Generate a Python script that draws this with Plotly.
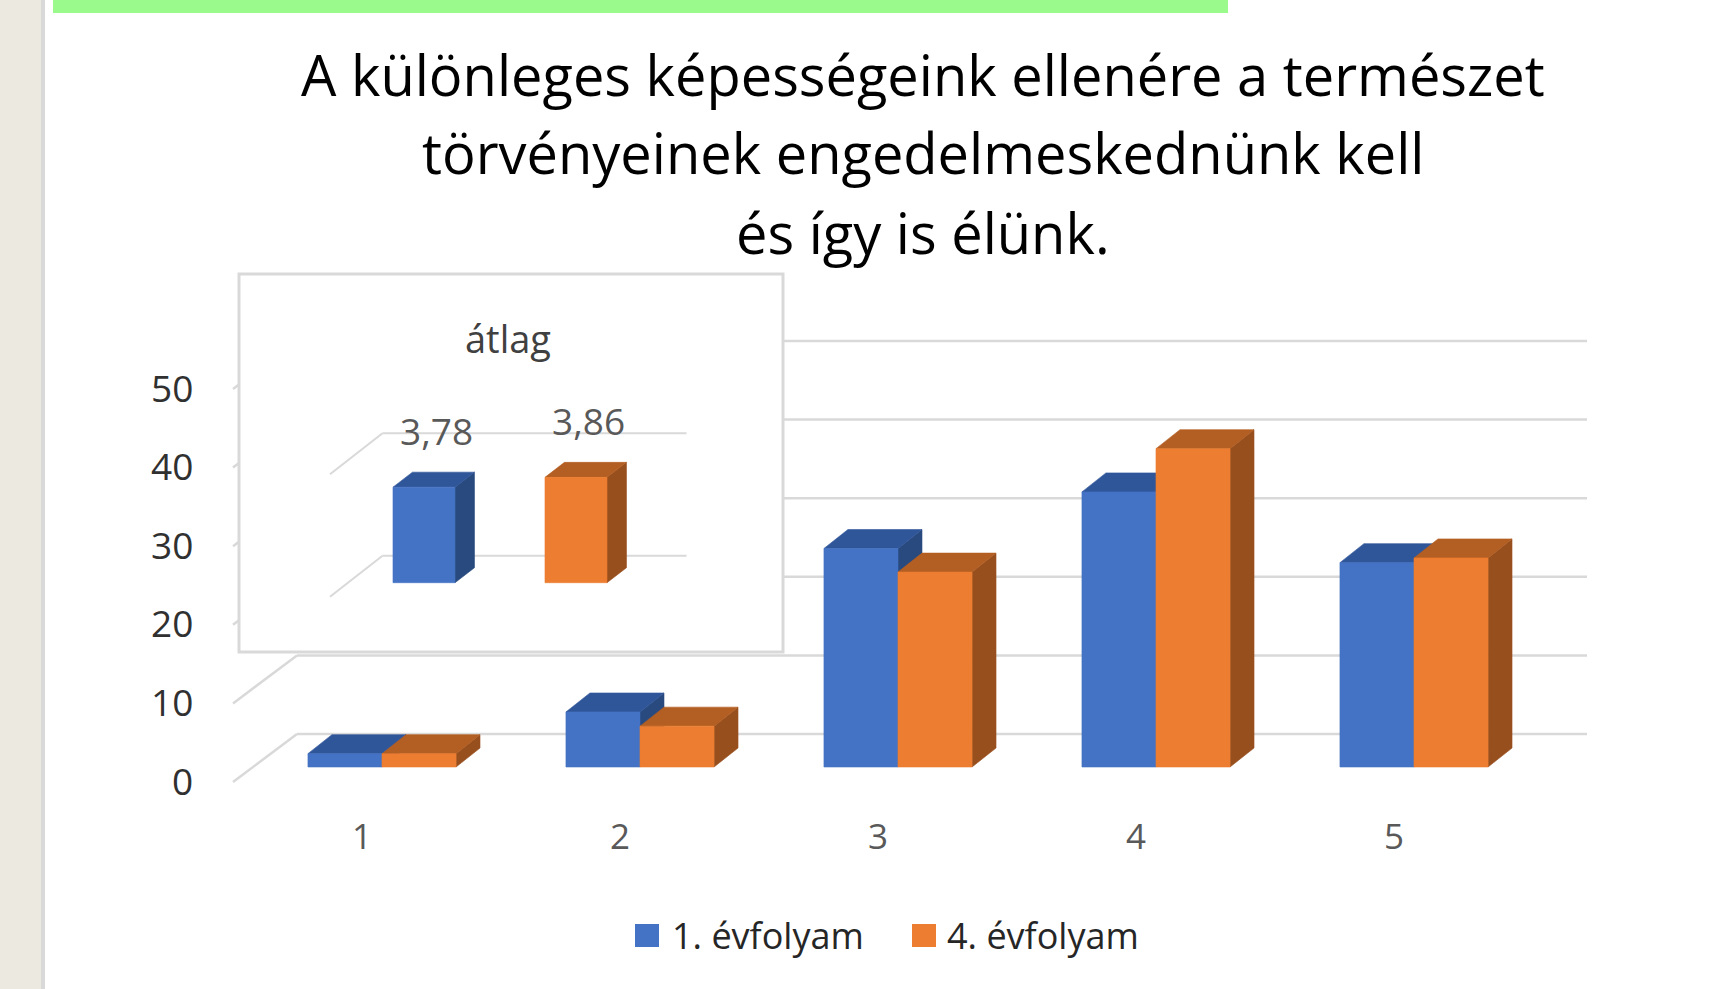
import plotly.graph_objects as go

# ---------------- data ----------------
categories = [1, 2, 3, 4, 5]
series_names = ["1. évfolyam", "4. évfolyam"]
grade1 = [1.7, 7.0, 27.8, 35.0, 26.0]
grade4 = [1.7, 5.2, 24.8, 40.5, 26.6]
y_ticks = [0, 10, 20, 30, 40, 50]

avg_values = [3.78, 3.86]
avg_labels = ["3,78", "3,86"]
avg_ticks = [3, 4]
avg_min = 3

title_lines = [
    "A különleges képességeink ellenére a természet",
    "törvényeinek engedelmeskednünk kell",
    "és így is élünk.",
]
inset_title = "átlag"

# ---------------- styling ----------------
FONT = "Open Sans"
FRONT = ["#4472C4", "#ED7D31"]
TOPC = ["#30569A", "#B35E22"]
SIDE = ["#294A7E", "#984F1E"]
GRID = "#D9D9D9"

W, H = 1710, 989

# main pseudo-3D geometry (in axis units)
BW = 0.287            # bar width
FDX, FDY = 0.0775, 1.908   # front face offset from floor front edge
BDX, BDY = 0.093, 2.417    # bar depth
WDX, WDY = 0.248, 6.107    # back wall offset

# inset geometry
IBW = 0.408
IFDX, IFDY = 0.1184, 0.1143
IBDX, IBDY = 0.128, 0.1224
IWDX, IWDY = 0.3454, 0.3347

fig = go.Figure()


def poly(xs, ys, color, xa="x", ya="y"):
    fig.add_trace(go.Scatter(
        x=xs, y=ys, fill="toself", fillcolor=color, mode="lines",
        line=dict(color=color, width=0.6), hoverinfo="skip",
        showlegend=False, xaxis=xa, yaxis=ya))


def line(xs, ys, xa="x", ya="y", width=2.5):
    fig.add_trace(go.Scatter(
        x=xs, y=ys, mode="lines", line=dict(color=GRID, width=width),
        hoverinfo="skip", showlegend=False, xaxis=xa, yaxis=ya))


def bar3d(x0, x1, base, top, ddx, ddy, k, xa="x", ya="y"):
    poly([x1, x1 + ddx, x1 + ddx, x1, x1],
         [base, base + ddy, top + ddy, top, base], SIDE[k], xa, ya)
    poly([x0, x1, x1 + ddx, x0 + ddx, x0],
         [top, top, top + ddy, top + ddy, top], TOPC[k], xa, ya)
    poly([x0, x1, x1, x0, x0], [base, base, top, top, base], FRONT[k], xa, ya)


# ---- main chart: back wall gridlines + floor diagonals ----
x_lo = categories[0] - 0.5
x_hi = categories[-1] + 0.5
for v in y_ticks:
    line([x_lo + WDX, x_hi + WDX], [v + WDY, v + WDY])
    line([x_lo, x_lo + WDX], [v, v + WDY])

# ---- main bars ----
for i, c in enumerate(categories):
    center = c + FDX
    for k, vals in enumerate([grade1, grade4]):
        x0 = center - BW if k == 0 else center
        x1 = x0 + BW
        bar3d(x0, x1, FDY, vals[i] + FDY, BDX, BDY, k)

# ---- inset chart ----
ix_lo, ix_hi = -0.5, len(avg_values) - 0.5
for v in avg_ticks:
    line([ix_lo + IWDX, ix_hi + IWDX], [v + IWDY, v + IWDY], "x2", "y2", 2)
    line([ix_lo, ix_lo + IWDX], [v, v + IWDY], "x2", "y2", 2)
for k, v in enumerate(avg_values):
    c = k + IFDX
    bar3d(c - IBW / 2, c + IBW / 2, avg_min + IFDY, v + IFDY, IBDX, IBDY, k, "x2", "y2")

annotations = []

# main y tick labels
for v in y_ticks:
    annotations.append(dict(x=x_lo, y=v, xref="x", yref="y", text=str(v),
                            showarrow=False, xanchor="right", yanchor="middle",
                            xshift=-38, yshift=2,
                            font=dict(family=FONT, size=37, color="#303030")))
# main x labels
for c in categories:
    annotations.append(dict(x=c, y=0, xref="x", yref="y", text=str(c),
                            showarrow=False, xanchor="center", yanchor="middle",
                            yshift=-53,
                            font=dict(family=FONT, size=35, color="#595959")))
# inset data labels
for k, (v, lab) in enumerate(zip(avg_values, avg_labels)):
    annotations.append(dict(x=k + IFDX + IBDX / 2, y=v + IFDY + IBDY,
                            xref="x2", yref="y2", text=lab, showarrow=False,
                            xanchor="center", yanchor="middle", xshift=3, yshift=42,
                            font=dict(family=FONT, size=37, color="#595959")))
# inset title
annotations.append(dict(x=0.495, y=0.83, xref="x2 domain", yref="y2 domain",
                        text=inset_title, showarrow=False, xanchor="center",
                        yanchor="middle",
                        font=dict(family=FONT, size=38, color="#404040")))
# main title (three lines)
for j, (t, yc) in enumerate(zip(title_lines, [74, 152.5, 232])):
    annotations.append(dict(x=923 / W, y=1 - yc / H, xref="paper", yref="paper",
                            text=t, showarrow=False, xanchor="center",
                            yanchor="middle",
                            font=dict(family=FONT, size=56, color="#000000")))

# legend (manual, squares + text)
shapes = []
leg_sq_x = [635, 912]
leg_txt_x = [670, 945]
for k, name in enumerate(series_names):
    shapes.append(dict(type="rect", xref="paper", yref="paper",
                       x0=leg_sq_x[k] / W, x1=(leg_sq_x[k] + 24) / W,
                       y0=1 - 947 / H, y1=1 - 924 / H,
                       fillcolor=FRONT[k], line=dict(width=0), layer="above"))
    annotations.append(dict(x=leg_txt_x[k] / W, y=1 - 935 / H, xref="paper",
                            yref="paper", text=name, showarrow=False,
                            xanchor="left", yanchor="middle",
                            font=dict(family=FONT, size=36, color="#262626")))

# inset box border
inset_x = [239 / W, 783 / W]
inset_y = [1 - 652 / H, 1 - 274 / H]
shapes.append(dict(type="rect", xref="paper", yref="paper",
                   x0=inset_x[0], x1=inset_x[1], y0=inset_y[0], y1=inset_y[1],
                   line=dict(color=GRID, width=3), fillcolor="rgba(0,0,0,0)",
                   layer="above"))
# slide decorations: left strip and green header bar
shapes.append(dict(type="rect", xref="paper", yref="paper", x0=0, x1=41 / W,
                   y0=0, y1=1, fillcolor="#ECEAE0", line=dict(width=0), layer="above"))
shapes.append(dict(type="rect", xref="paper", yref="paper", x0=41 / W, x1=45 / W,
                   y0=0, y1=1, fillcolor="#D9D9D9", line=dict(width=0), layer="above"))
shapes.append(dict(type="rect", xref="paper", yref="paper", x0=53 / W, x1=1228 / W,
                   y0=1 - 13 / H, y1=1, fillcolor="#9AFA8C", line=dict(width=0),
                   layer="above"))

# axis ranges mapping to pixel layout
fig.update_layout(
    width=W, height=H,
    margin=dict(l=0, r=0, t=0, b=0),
    paper_bgcolor="white", plot_bgcolor="white",
    showlegend=False,
    xaxis=dict(domain=[0, 1], range=[-0.40310, 6.22481], visible=False, fixedrange=True),
    yaxis=dict(domain=[0, 1], range=[-26.336, 99.491], visible=False, fixedrange=True),
    xaxis2=dict(domain=inset_x, range=[-1.0987, 2.4803], visible=False,
                anchor="y2", fixedrange=True),
    yaxis2=dict(domain=inset_y, range=[2.5486, 5.6343], visible=False,
                anchor="x2", fixedrange=True),
    annotations=annotations,
    shapes=shapes,
)

fig.write_html(
    "out.html",
    config={"displayModeBar": False},
    post_script="document.body.style.margin='0';document.body.style.overflow='hidden';",
)
